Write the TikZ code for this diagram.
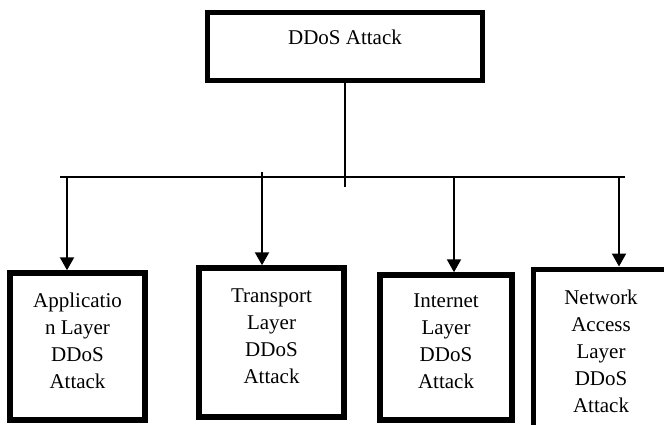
\documentclass[tikz,border=0pt]{standalone}
\usepackage{fontspec}
\setmainfont{Liberation Serif}
\usetikzlibrary{arrows.meta}

\begin{document}
\begin{tikzpicture}[x=1pt, y=-1pt, >={Triangle[length=13pt,width=14pt]},
  topbox/.style={draw, line width=5pt, inner sep=0pt, text depth=19pt, font=\fontsize{21}{27}\selectfont},
  layerbox/.style={draw, line width=5.5pt, inner sep=0pt, align=center, text depth=12pt, font=\fontsize{21}{27}\selectfont},
  bus/.style={line width=1.6pt},
  feed/.style={->, line width=2.2pt}]
\clip (0,0) rectangle (664,425);
\useasboundingbox (0,0) rectangle (664,425);
% root
\node[topbox, minimum width=275pt, minimum height=68pt] (attack) at (345,46.5) {DDoS Attack};
% the four layers
\node[layerbox, minimum width=135pt, minimum height=147pt] (app) at (77.5,346.5) {Applicatio\\n Layer\\DDoS\\Attack};
\node[layerbox, minimum width=145pt, minimum height=149pt] (trans) at (271.5,342.5) {Transport\\Layer\\DDoS\\Attack};
\node[layerbox, minimum width=132pt, minimum height=145pt] (inet) at (446,347.5) {Internet\\Layer\\DDoS\\Attack};
\node[layerbox, line width=5pt, minimum width=136pt, minimum height=176pt] (netacc) at (601,357) {Network\\Access\\Layer\\DDoS\\Attack};
% bus
\coordinate (busl) at (60,177);
\coordinate (busr) at (625,177);
\coordinate (trunk) at (345,187);
\draw[bus] (attack.south) -- (trunk);
\draw[bus] (busl) -- (busr);
\coordinate (f1) at (67,177);
\coordinate (f2) at (262,172);
\coordinate (f3) at (454,177);
\coordinate (f4) at (619,177);
\draw[feed] (f1) -- (f1 |- app.north);
\draw[feed] (f2) -- (f2 |- trans.north);
\draw[feed] (f3) -- (f3 |- inet.north);
\draw[feed] (f4) -- (f4 |- netacc.north);
\end{tikzpicture}
\end{document}
